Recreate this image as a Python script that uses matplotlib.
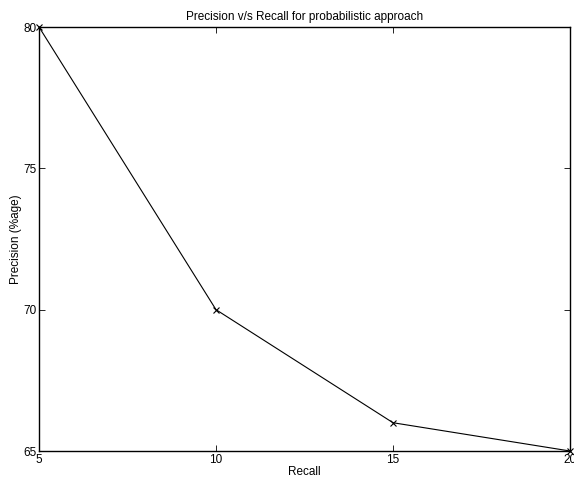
import matplotlib
matplotlib.use("Agg")
import matplotlib.pyplot as plt

# data
recall = [5, 10, 15, 20]
precision = [80, 70, 66, 65]
xticks = [5, 10, 15, 20]
yticks = [65, 70, 75, 80]

plt.rcParams['font.family'] = ['Liberation Sans', 'DejaVu Sans']
plt.rcParams['font.size'] = 8.5

fig = plt.figure(figsize=(5.74, 4.83), dpi=100)
ax = fig.add_axes([39/574, 32/483, 531/574, 424/483])

ax.plot(recall, precision, color='k', linewidth=0.8, marker='x',
        markersize=5, markeredgewidth=0.8, clip_on=False)

ax.set_xlim(5, 20)
ax.set_ylim(65, 80)
ax.set_xticks(xticks)
ax.set_yticks(yticks)
ax.tick_params(direction='in', top=True, right=True, length=4, width=0.6, pad=2)
for s in ax.spines.values():
    s.set_linewidth(1.0)

ax.set_title("Precision v/s Recall for probabilistic approach", fontsize=8.5, pad=5)
ax.set_xlabel("Recall", labelpad=0)
ax.set_ylabel("Precision (%age)", labelpad=1)

fig.savefig("out.png", dpi=100)
